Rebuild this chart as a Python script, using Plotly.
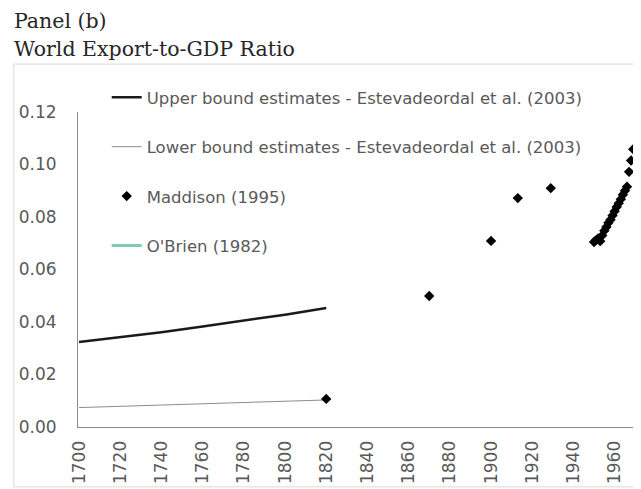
import plotly.graph_objects as go

# ---- data ----
upper_years = [1700, 1720, 1740, 1760, 1780, 1800, 1820]
upper_vals = [0.0324, 0.0342, 0.0361, 0.0383, 0.0405, 0.0428, 0.0453]

lower_years = [1700, 1720, 1740, 1760, 1780, 1800, 1820]
lower_vals = [0.0074, 0.0079, 0.0083, 0.0088, 0.0093, 0.0098, 0.0103]

maddison_years = [1820, 1870, 1900, 1913, 1929,
                  1950, 1951, 1952, 1953, 1954, 1955, 1956, 1957, 1958, 1959,
                  1960, 1961, 1962, 1963, 1964, 1965, 1966, 1967, 1968, 1969]
maddison_vals = [0.0107, 0.0499, 0.0709, 0.0872, 0.0910,
                 0.0705, 0.0712, 0.0718, 0.0708, 0.0730, 0.0748, 0.0762, 0.0778, 0.0790, 0.0806,
                 0.0822, 0.0838, 0.0852, 0.0868, 0.0885, 0.0900, 0.0915, 0.0972, 0.1015, 0.1058]

tick_years = [1700, 1720, 1740, 1760, 1780, 1800, 1820, 1840, 1860, 1880, 1900, 1920, 1940, 1960]
y_ticks = [0.00, 0.02, 0.04, 0.06, 0.08, 0.10, 0.12]

names = ["Upper bound estimates - Estevadeordal et al. (2003)",
         "Lower bound estimates - Estevadeordal et al. (2003)",
         "Maddison (1995)",
         "O'Brien (1982)"]

TXT = "#595959"

fig = go.Figure()
fig.add_trace(go.Scatter(x=upper_years, y=upper_vals, mode="lines", name=names[0],
                         line=dict(color="#1a1a1a", width=2.5), legendgroup="a"))
fig.add_trace(go.Scatter(x=lower_years, y=lower_vals, mode="lines", name=names[1],
                         line=dict(color="#8c8c8c", width=1), legendgroup="b"))
fig.add_trace(go.Scatter(x=maddison_years, y=maddison_vals, mode="markers", name=names[2],
                         marker=dict(symbol="diamond", color="black", size=8), legendgroup="c"))
fig.add_trace(go.Scatter(x=[None], y=[None], mode="lines", name=names[3],
                         line=dict(color="#7fcbb5", width=3), legendgroup="d"))

fig.update_layout(
    width=633, height=481,
    margin=dict(l=70, r=0, t=104, b=62),
    paper_bgcolor="white", plot_bgcolor="white",
    font=dict(family="DejaVu Sans", color=TXT),
    showlegend=True,
    legend=dict(x=0.051, y=1.1016, xanchor="left", yanchor="top",
                bgcolor="rgba(0,0,0,0)", font=dict(size=16.5, color=TXT),
                tracegroupgap=25, itemwidth=30),
    xaxis=dict(range=[1699.5, 1972.8], tickmode="array", tickvals=tick_years,
               ticktext=[str(t) for t in tick_years], tickangle=-90,
               showgrid=False, zeroline=False, showline=True, linecolor="#8a8a8a",
               linewidth=1, ticks="", ticklabelstandoff=6,
               tickfont=dict(size=17, color=TXT)),
    yaxis=dict(range=[0, 0.12], tickmode="array", tickvals=y_ticks,
               ticktext=["%.2f" % v for v in y_ticks],
               showgrid=False, zeroline=False, showline=True, linecolor="#8a8a8a",
               linewidth=1, ticks="", ticklabelstandoff=17,
               tickfont=dict(size=17, color=TXT)),
    shapes=[dict(type="rect", xref="paper", yref="paper",
                 x0=-0.114, x1=1.03, y0=-0.19, y1=1.152,
                 line=dict(color="#d9d9d9", width=1), layer="below")],
    annotations=[
        dict(text="Panel (b)", xref="paper", yref="paper", x=-0.1175, y=1.288,
             xanchor="left", yanchor="middle", showarrow=False,
             font=dict(family="DejaVu Serif", size=20.5, color="#262626")),
        dict(text="World Export-to-GDP Ratio", xref="paper", yref="paper", x=-0.1175, y=1.201,
             xanchor="left", yanchor="middle", showarrow=False,
             font=dict(family="DejaVu Serif", size=20.5, color="#262626")),
    ],
)

fig.write_html("out.html")
